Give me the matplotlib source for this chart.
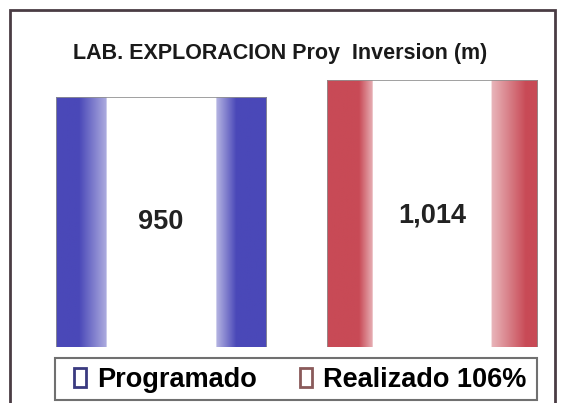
import numpy as np
import matplotlib
matplotlib.use('Agg')
import matplotlib.pyplot as plt
from matplotlib.patches import Patch, Rectangle

plt.rcParams['font.family'] = ['Liberation Sans', 'DejaVu Sans']

# data
categories = ['Programado', 'Realizado 106%']
values = [950, 1014]
value_labels = ['950', '1,014']
title = 'LAB. EXPLORACION Proy  Inversion (m)'

bar_colors = ['#4a48b8', '#c84a56']
marker_edges = ['#3a3a80', '#8a5a5a']


def strip_profile(base, n=300, left_w=0.24, right_w=0.24, left_fade=0.5, right_fade=0.35):
    # horizontal colour profile: coloured edges, white middle
    base = np.array(matplotlib.colors.to_rgb(base))
    white = np.ones(3)
    t = np.linspace(0, 1, n)
    img = np.ones((1, n, 3))
    for i, ti in enumerate(t):
        if ti < left_w:
            s = ti / left_w
            f = np.clip((s - left_fade) / (1 - left_fade), 0, 1) * 0.55
            img[0, i] = base * (1 - f) + white * f
        elif ti > 1 - right_w:
            s = (ti - (1 - right_w)) / right_w
            f = np.clip(1 - s / right_fade, 0, 1) * 0.6
            img[0, i] = base * (1 - f) + white * f
    return img


fig = plt.figure(figsize=(5.63, 4.03), dpi=100)
fig.patch.set_facecolor('white')

ax = fig.add_axes([20 / 563, 56 / 403, 533 / 563, 267 / 403])
ax.set_xlim(-0.52, 1.447)
ax.set_ylim(0, 1014)
ax.axis('off')

x = np.arange(len(values))
bars = ax.bar(x, values, width=0.775, color='none', edgecolor='#909090', linewidth=0.6, zorder=3)

profiles = [
    strip_profile(bar_colors[0], left_w=0.24, right_w=0.24, left_fade=0.45, right_fade=0.4),
    strip_profile(bar_colors[1], left_w=0.215, right_w=0.22, left_fade=0.7, right_fade=0.75),
]
for bar, prof in zip(bars, profiles):
    x0, w, h = bar.get_x(), bar.get_width(), bar.get_height()
    im = ax.imshow(prof, extent=[x0, x0 + w, 0, h], aspect='auto', zorder=2,
                   interpolation='bilinear')
    im.set_clip_path(bar)

label_y = [475, 500]
for xi, lbl, ly in zip(x, value_labels, label_y):
    ax.text(xi, ly, lbl, ha='center', va='center', fontsize=19.5,
            fontweight='bold', color='#222222', zorder=4)

fig.text(280 / 563, 1 - 53 / 403, title, ha='center', va='center',
         fontsize=15.5, fontweight='bold', color='#1a1a1a')

# outer frame
fig.patches.append(Rectangle((10 / 563, -0.05), 545 / 563, 1 - 10 / 403 + 0.05,
                             transform=fig.transFigure, fill=False,
                             edgecolor='#4a3c44', linewidth=2))

# legend frame
fig.patches.append(Rectangle((55 / 563, 3 / 403), 482 / 563, 42 / 403,
                             transform=fig.transFigure, fill=False,
                             edgecolor='#707070', linewidth=1.5))

handles = [Patch(facecolor='white', edgecolor=ec, linewidth=2) for ec in marker_edges]
leg = fig.legend(handles, categories, loc='center', ncol=2,
                 bbox_to_anchor=(300 / 563, 23 / 403),
                 prop={'size': 19.5, 'weight': 'bold'}, frameon=False,
                 handlelength=0.45, handleheight=0.75, handletextpad=0.4,
                 columnspacing=1.6, borderpad=0, borderaxespad=0)

plt.savefig('out.png', dpi=100)
